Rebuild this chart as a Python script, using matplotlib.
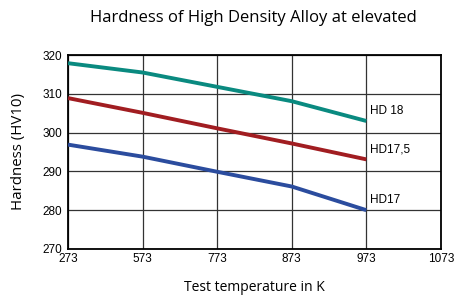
import matplotlib
matplotlib.use("Agg")
import matplotlib.pyplot as plt

# ── Datos ─────────────────────────────────────────────────────────────────
temp_labels = ["273", "573", "773", "873", "973", "1073"]
hd18 = [317.9, 315.5, 311.8, 308.1, 303.0]
hd17_5 = [308.9, 305.1, 301.1, 297.2, 293.1]
hd17 = [296.9, 293.8, 289.9, 286.1, 280.0]
series_names = ["HD 18", "HD17,5", "HD17"]
series_colors = ["#0A8A80", "#A11D21", "#2B4C9E"]

TICK_FONT = "Liberation Sans"
TEXT_FONT = "Open Sans"

fig = plt.figure(figsize=(4.55, 2.96), dpi=100)
ax = fig.add_axes([0.1495, 0.159, 0.8195, 0.655])

positions = list(range(len(temp_labels)))
for vals, name, col in zip([hd18, hd17_5, hd17], series_names, series_colors):
    xs = positions[:len(vals)]
    ax.plot(xs, vals, color=col, linewidth=2.8, solid_capstyle="butt", zorder=3)
    ax.annotate(name, (xs[-1], vals[-1]), xytext=(3, 7), textcoords="offset points",
                ha="left", va="center", fontsize=8.5, family=TICK_FONT, color="black")

ax.set_xlim(0, len(temp_labels) - 1)
ax.set_ylim(270, 320)
ax.set_xticks(positions)
ax.set_xticklabels(temp_labels, family=TICK_FONT, fontsize=8.5)
ax.set_yticks(range(270, 321, 10))
ax.set_yticklabels([str(v) for v in range(270, 321, 10)], family=TICK_FONT, fontsize=8.5)
ax.tick_params(length=0, pad=4)
ax.tick_params(axis="x", pad=3)

ax.grid(True, color="#333333", linewidth=0.9)
ax.set_axisbelow(True)
for sp in ax.spines.values():
    sp.set_linewidth(1.3)
    sp.set_color("black")

ax.set_ylabel("Hardness (HV10)", family=TEXT_FONT, fontsize=10.8)
ax.yaxis.set_label_coords(-0.112, 0.5)
fig.text(0.558, 0.028, "Test temperature in K", family=TEXT_FONT, fontsize=10,
         ha="center", va="center")
fig.text(0.557, 0.94, "Hardness of High Density Alloy at elevated", family=TEXT_FONT,
         fontsize=12.0, ha="center", va="center")

fig.savefig("out.png", dpi=100, facecolor="white")
